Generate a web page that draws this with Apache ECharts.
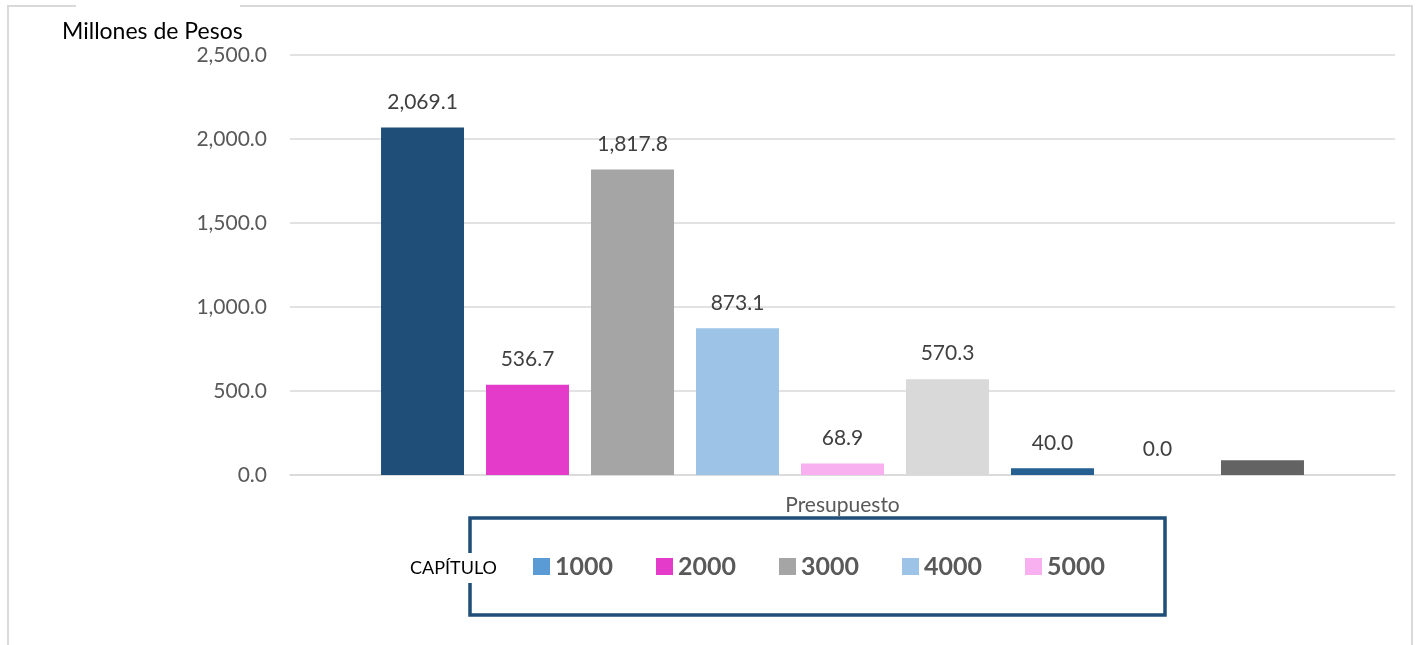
<!DOCTYPE html>
<html><head><meta charset="utf-8">
<script src="https://cdn.jsdelivr.net/npm/echarts@6/dist/echarts.min.js"></script>
<style>html,body{margin:0;padding:0;background:#fff}#c{width:1418px;height:645px}</style>
</head><body><div id="c"></div>
<script>
const categories = ['Presupuesto'];
const seriesNames = ['1000','2000','3000','4000','5000','6000','7000','8000','9000'];
const seriesValues = [2069.1, 536.7, 1817.8, 873.1, 68.9, 570.3, 40.0, 0.0, 88];
const showLabel = [true,true,true,true,true,true,true,true,false];
const barColors = ['#1F4E79','#E43BCB','#A5A5A5','#9DC3E6','#F9B0F0','#D9D9D9','#255E91','#7F7F7F','#636363'];
const legendNames = ['1000','2000','3000','4000','5000'];
const legendColors = ['#5B9BD5','#E43BCB','#A5A5A5','#9DC3E6','#F9B0F0'];
const yTicks = {min:0, max:2500, interval:500};

const font = 'Lato, "Open Sans", sans-serif';
const fmt = v => v.toLocaleString('en-US',{minimumFractionDigits:1,maximumFractionDigits:1});
const chart = echarts.init(document.getElementById('c'));
chart.setOption({
  animation:false,
  textStyle:{fontFamily:font},
  grid:{left:290,right:23,top:55,bottom:170},
  xAxis:{type:'category',data:categories,
    axisLine:{lineStyle:{color:'#D9D9D9',width:1.5}},axisTick:{show:false},
    axisLabel:{color:'#595959',fontSize:21,margin:20,fontFamily:font}},
  yAxis:{type:'value',min:yTicks.min,max:yTicks.max,interval:yTicks.interval,
    axisLabel:{color:'#595959',fontSize:21,margin:23,fontFamily:font,formatter:fmt},
    splitLine:{lineStyle:{color:'#D9D9D9',width:1.5}},axisLine:{show:false},axisTick:{show:false}},
  legend:{left:528,top:549,itemWidth:17,itemHeight:17,itemGap:43,icon:'rect',
    textStyle:{color:'#595959',fontSize:25,fontWeight:'bold',fontFamily:font,padding:[0,0,0,0]},
    data:legendNames.map((n,i)=>({name:n,itemStyle:{color:legendColors[i]}}))},
  series:seriesNames.map((n,i)=>({
    name:n,type:'bar',barWidth:83,barGap:'26.5%',
    data:[seriesValues[i]],
    itemStyle:{color:barColors[i]},
    label:{show:showLabel[i],position:'top',distance:15,color:'#404040',fontSize:21,fontFamily:font,
      formatter:p=>fmt(p.value)}
  })),
  graphic:[
    {type:'rect',shape:{x:8,y:6,width:1404,height:700},style:{fill:'none',stroke:'#D9D9D9',lineWidth:2},z:-10,silent:true},
    {type:'rect',shape:{x:76,y:2,width:164,height:10},style:{fill:'#fff'},z:-5,silent:true},
    {type:'text',left:62,top:20,style:{text:'Millones de Pesos',fontSize:23,fill:'#000',fontFamily:font},z:10},
    {type:'rect',shape:{x:470,y:518,width:695,height:97},style:{fill:'none',stroke:'#1F4E79',lineWidth:3.5},z:5,silent:true},
    {type:'text',left:410,top:553,style:{text:'CAPÍTULO',fontSize:18,fill:'#000',fontFamily:font,backgroundColor:'#fff',padding:[6,0,6,0]},z:10}
  ]
});
</script></body></html>
